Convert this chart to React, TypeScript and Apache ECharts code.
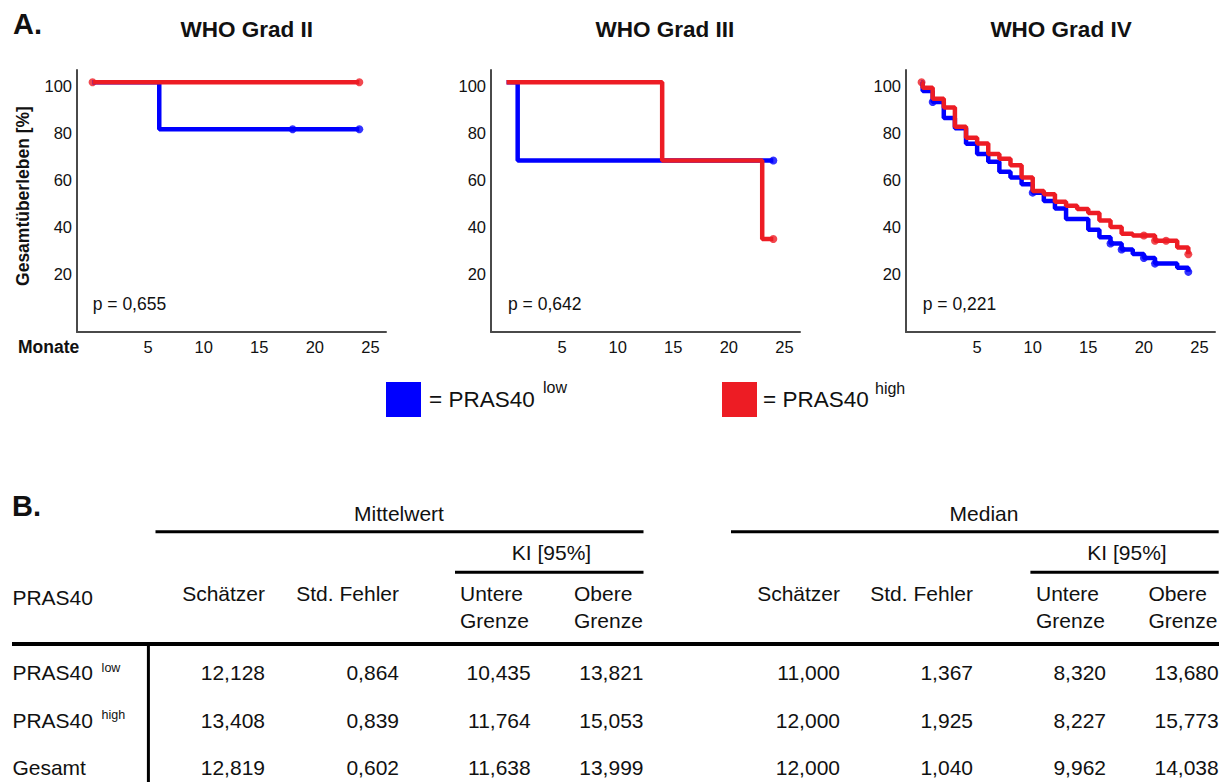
import React, { useEffect, useRef } from 'react';
import * as echarts from 'echarts';

const FONT = "'Liberation Sans', Arial, Helvetica, sans-serif";
const BLUE = '#0000ff';
const RED = '#ed1c24';
const INK = '#111111';
const AXIS = '#4a4a4a';

// Axis ticks
const monthTicks = [5, 10, 15, 20, 25];
const survivalTicks = [20, 40, 60, 80, 100];

const panelTitles = ['WHO Grad II', 'WHO Grad III', 'WHO Grad IV'];
const pValueLabels = ['p = 0,655', 'p = 0,642', 'p = 0,221'];

// Kaplan-Meier steps: [month, overall survival %]
const grad2Low = [[0, 100], [6, 80], [24, 80]];
const grad2High = [[0, 100], [24, 100]];
const grad2LowCensored = [[18, 80], [24, 80]];
const grad2HighCensored = [[0, 100], [24, 100]];

const grad3Low = [[0, 100], [1, 66.7], [24, 66.7]];
const grad3High = [[0, 100], [14, 66.7], [23, 33.3], [24, 33.3]];
const grad3LowCensored = [[24, 66.7]];
const grad3HighCensored = [[24, 33.3]];

const grad4Low = [
  [0, 100], [0.1, 96.3], [1, 91.6], [2, 84.8], [3, 80.4], [4, 73.8], [5, 69.4], [6, 66.2],
  [7, 61.9], [8, 59.4], [9, 56.6], [10, 53], [11, 49.5], [12, 46.3], [13, 41.8], [15, 37.2],
  [16, 34], [17, 31.4], [18, 28.8], [19, 26.9], [20, 25.2], [21, 22.8], [23, 21], [24, 19.3],
];
const grad4High = [
  [0, 100], [0.1, 97.6], [1, 93], [2, 89.2], [3, 81.1], [4, 76.4], [5, 73.9], [6, 69.5],
  [7, 67.4], [8, 64.7], [9, 59.4], [10, 53.7], [11, 52.3], [12, 49.1], [13, 47.4], [14, 46],
  [15, 44.3], [16, 41.2], [17, 38.4], [18, 35.5], [19, 34.8], [21, 32.5], [23, 29.7], [24, 26.8],
];
const grad4LowCensored = [[1, 91.6], [10, 53], [17, 31.4], [18, 28.8], [20, 25.2], [21, 22.8], [24, 19.3]];
const grad4HighCensored = [[0, 100], [20, 34.8], [21, 32.5], [22, 32.5], [24, 26.8]];

const panelCurves = [
  { low: grad2Low, high: grad2High, lowCens: grad2LowCensored, highCens: grad2HighCensored },
  { low: grad3Low, high: grad3High, lowCens: grad3LowCensored, highCens: grad3HighCensored },
  { low: grad4Low, high: grad4High, lowCens: grad4LowCensored, highCens: grad4HighCensored },
];

// Table B: survival time estimates (months)
const rowLabels = ['PRAS40', 'PRAS40', 'Gesamt'];
const rowSuperscripts = ['low', 'high', ''];
const meanEstimate = ['12,128', '13,408', '12,819'];
const meanStdErr = ['0,864', '0,839', '0,602'];
const meanLower = ['10,435', '11,764', '11,638'];
const meanUpper = ['13,821', '15,053', '13,999'];
const medianEstimate = ['11,000', '12,000', '12,000'];
const medianStdErr = ['1,367', '1,925', '1,040'];
const medianLower = ['8,320', '8,227', '9,962'];
const medianUpper = ['13,680', '15,773', '14,038'];

const gridLefts = [77, 491, 906];
const titleCenters = [246.7, 664.8, 1061];
const pValueX = [92.7, 508, 922.7];

function txt(x: number, y: number, text: string, size: number, opts: any = {}) {
  return {
    type: 'text',
    x,
    y,
    rotation: opts.rotation || 0,
    style: {
      text,
      font: `${opts.bold ? 'bold ' : ''}${size}px ${FONT}`,
      fill: opts.fill || INK,
      textAlign: opts.align || 'left',
      textVerticalAlign: 'middle',
      align: opts.align || 'left',
      verticalAlign: 'middle',
    },
  };
}

function hline(x1: number, x2: number, y: number, w: number) {
  return { type: 'line', shape: { x1, y1: y, x2, y2: y }, style: { stroke: '#000', lineWidth: w } };
}

export default function App() {
  const ref = useRef<HTMLDivElement>(null);

  useEffect(() => {
    if (!ref.current) return;
    const chart = echarts.init(ref.current, undefined, { renderer: 'svg' });

    const grids = gridLefts.map((left) => ({ left, top: 70, width: 309, height: 262 }));
    const xAxes = gridLefts.map((_, i) => ({
      type: 'value',
      gridIndex: i,
      min: -1.4,
      max: 26.4,
      splitLine: { show: false },
      axisTick: { show: false },
      axisLine: { show: true, onZero: false, lineStyle: { color: AXIS, width: 2 } },
      axisLabel: {
        customValues: monthTicks,
        margin: 6,
        fontSize: 16.5,
        fontFamily: FONT,
        color: INK,
      },
    }));
    const yAxes = gridLefts.map((_, i) => ({
      type: 'value',
      gridIndex: i,
      min: -6.3,
      max: 105.2,
      splitLine: { show: false },
      axisTick: { show: false },
      axisLine: { show: true, onZero: false, lineStyle: { color: AXIS, width: 2 } },
      axisLabel: {
        customValues: survivalTicks,
        margin: 5,
        color: INK,
        formatter: (v: number) => `{s|${v}}`,
        rich: {
          s: { fontSize: 16.5, fontFamily: FONT, color: INK, padding: [8, 0, 0, 0] },
        },
      },
    }));

    const series: any[] = [];
    panelCurves.forEach((p, i) => {
      const base = { xAxisIndex: i, yAxisIndex: i, silent: true };
      series.push({ ...base, type: 'line', step: 'end', data: p.low, symbol: 'none', lineStyle: { color: BLUE, width: 4.5 } });
      series.push({ ...base, type: 'line', step: 'end', data: p.high, symbol: 'none', lineStyle: { color: RED, width: 4.5 } });
      series.push({ ...base, type: 'scatter', data: p.lowCens, symbol: 'circle', symbolSize: 8, itemStyle: { color: BLUE } });
      series.push({ ...base, type: 'scatter', data: p.highCens, symbol: 'circle', symbolSize: 8, itemStyle: { color: RED } });
    });

    const g: any[] = [];
    // Panel headings
    g.push(txt(13, 24, 'A.', 29, { bold: true }));
    panelTitles.forEach((t, i) => g.push(txt(titleCenters[i], 29, t, 22.5, { bold: true, align: 'center' })));
    pValueLabels.forEach((t, i) => g.push(txt(pValueX[i], 304, t, 17.5)));
    g.push(txt(22.7, 196, 'Gesamtüberleben [%]', 17.5, { bold: true, align: 'center', rotation: Math.PI / 2 }));
    g.push(txt(18, 347, 'Monate', 17.5, { bold: true }));

    // Legend
    g.push({ type: 'rect', shape: { x: 386, y: 382, width: 35, height: 35 }, style: { fill: BLUE } });
    g.push(txt(429, 399, '= PRAS40', 22.5));
    g.push(txt(543, 387, 'low', 16));
    g.push({ type: 'rect', shape: { x: 722, y: 382, width: 35, height: 35 }, style: { fill: RED } });
    g.push(txt(763, 399, '= PRAS40', 22.5));
    g.push(txt(875, 388, 'high', 16));

    // Table B
    const TS = 21;
    g.push(txt(12, 506, 'B.', 29, { bold: true }));
    g.push(txt(399, 513, 'Mittelwert', TS, { align: 'center' }));
    g.push(txt(984, 513, 'Median', TS, { align: 'center' }));
    g.push(hline(155.5, 643.5, 531.7, 3));
    g.push(hline(731, 1218.7, 531.7, 3));
    g.push(txt(551.5, 552, 'KI [95%]', TS, { align: 'center' }));
    g.push(txt(1127, 552, 'KI [95%]', TS, { align: 'center' }));
    g.push(hline(455, 643.5, 572.3, 3));
    g.push(hline(1030.4, 1218.7, 572.3, 3));

    g.push(txt(12.4, 597, 'PRAS40', TS));
    const colRights = [265, 399, 530.7, 643.5, 840, 973, 1106, 1218.7];
    const headerMain = ['Schätzer', 'Std. Fehler', '', '', 'Schätzer', 'Std. Fehler', '', ''];
    headerMain.forEach((h, i) => {
      if (h) g.push(txt(colRights[i], 593.3, h, TS, { align: 'right' }));
    });
    [[460, 'Untere'], [574, 'Obere'], [1036, 'Untere'], [1148.5, 'Obere']].forEach(([x, t]) => {
      g.push(txt(x as number, 593.3, t as string, TS));
      g.push(txt(x as number, 620, 'Grenze', TS));
    });
    g.push(hline(12, 1219, 644, 4));
    g.push({ type: 'line', shape: { x1: 148.4, y1: 644, x2: 148.4, y2: 782 }, style: { stroke: '#000', lineWidth: 3 } });

    const rowY = [672.7, 720, 767.3];
    const columns = [meanEstimate, meanStdErr, meanLower, meanUpper, medianEstimate, medianStdErr, medianLower, medianUpper];
    rowLabels.forEach((label, r) => {
      g.push(txt(12.4, rowY[r], label, TS));
      if (rowSuperscripts[r]) g.push(txt(101.6, rowY[r] - 5, rowSuperscripts[r], 12.5));
      columns.forEach((col, c) => g.push(txt(colRights[c], rowY[r], col[r], TS, { align: 'right' })));
    });

    chart.setOption({
      animation: false,
      backgroundColor: '#ffffff',
      grid: grids,
      xAxis: xAxes,
      yAxis: yAxes,
      series,
      graphic: { elements: g },
    });

    return () => chart.dispose();
  }, []);

  return (
    <div
      ref={ref}
      style={{ position: 'absolute', left: 0, top: 0, width: 1229, height: 782, background: '#fff' }}
    />
  );
}
